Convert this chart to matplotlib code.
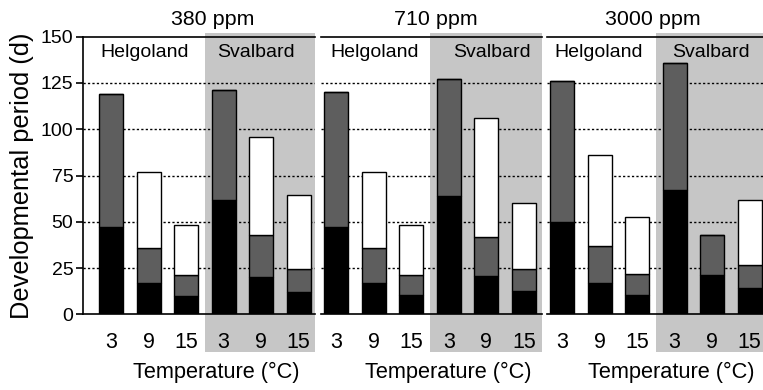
"""
Developmental period of Helgoland / Svalbard populations at three CO2 levels
"""
import matplotlib.pyplot as plt
from matplotlib.patches import Rectangle
import matplotlib.transforms as mtransforms
import numpy as np

plt.rcParams['font.family'] = ['Liberation Sans', 'DejaVu Sans']

co2_levels = ['380 ppm', '710 ppm', '3000 ppm']
temps = ['3', '9', '15', '3', '9', '15']
sites = ['Helgoland', 'Svalbard']

# stage boundaries (d): black = first stage, grey = second, white = third
black_380 = [47, 17, 10, 61.5, 20, 12]
mid_380 = [119, 36, 21.5, 121, 43, 24.5]
total_380 = [119, 77, 48, 121, 96, 64.5]

black_710 = [47, 17, 10.5, 64, 20.5, 12.5]
mid_710 = [120, 36, 21, 127, 42, 24.5]
total_710 = [120, 77, 48, 127, 106, 60]

black_3000 = [50, 17, 10.5, 67, 21, 14]
mid_3000 = [126, 37, 22, 136, 43, 26.5]
total_3000 = [126, 86, 52.5, 136, 43, 61.5]

blacks = [black_380, black_710, black_3000]
mids = [mid_380, mid_710, mid_3000]
totals = [total_380, total_710, total_3000]

W, H = 763, 390
fig = plt.figure(figsize=(W / 100, H / 100), dpi=100)

# panel geometry in pixels
px_left = [83, 321, 547]
xlims = [(-0.747, 5.44), (-0.41, 5.475), (-0.40, 5.36)]
unit = 37.5
y_bot, y_top = 314.3, 36.7
title_x = [0.558, 0.52, 0.49]
site_x = [(0.9, 3.87), (1.03, 4.15), (0.97, 3.97)]

bg = '#c6c6c6'
dark = '#5e5e5e'

for k in range(3):
    x0, x1 = xlims[k]
    width_px = (x1 - x0) * unit
    ax = fig.add_axes([px_left[k] / W, (H - y_bot) / H,
                       width_px / W, (y_bot - y_top) / H])
    ax.set_facecolor('none')
    ax.set_xlim(x0, x1)
    ax.set_ylim(0, 150)

    x = np.arange(6)
    b = np.array(blacks[k])
    m = np.array(mids[k])
    t = np.array(totals[k])
    ax.bar(x, b, width=0.64, color='black', edgecolor='black', linewidth=1, zorder=2)
    ax.bar(x, m - b, bottom=b, width=0.64, color=dark, edgecolor='black', linewidth=1, zorder=2)
    ax.bar(x, t - m, bottom=m, width=0.64, color='white', edgecolor='black', linewidth=1, zorder=2)

    # grey background behind Svalbard
    trans = mtransforms.blended_transform_factory(ax.transData, ax.transAxes)
    ax.add_patch(Rectangle((2.5, -0.136), x1 - 2.5, 1.148, transform=trans,
                           facecolor=bg, edgecolor='none', clip_on=False, zorder=0))

    ax.set_yticks([0, 25, 50, 75, 100, 125, 150])
    for v in [25, 50, 75, 100, 125]:
        ax.axhline(v, color='black', linewidth=1, linestyle=(0, (1.6, 1.6)), zorder=1)

    ax.set_xticks(x)
    ax.set_xticklabels(temps, fontsize=15.5)
    ax.tick_params(axis='x', length=0, pad=13)

    ax.spines['right'].set_visible(False)
    ax.spines['top'].set_linewidth(1.2)
    ax.spines['bottom'].set_linewidth(1.2)
    if k == 0:
        ax.spines['left'].set_linewidth(1.2)
        ax.tick_params(axis='y', length=5, width=1.2, pad=2, labelsize=14)
        ax.set_ylabel('Developmental period (d)', fontsize=18.3, labelpad=5)
    else:
        ax.spines['left'].set_visible(False)
        ax.tick_params(axis='y', left=False, labelleft=False)

    ax.text(title_x[k], 1.042, co2_levels[k], transform=ax.transAxes,
            ha='center', va='baseline', fontsize=15.4)
    ax.text(site_x[k][0], 141.5, sites[0], ha='center', va='center', fontsize=14)
    ax.text(site_x[k][1], 141.5, sites[1], ha='center', va='center', fontsize=14)

    ax.set_xlabel('Temperature (°C)', fontsize=15.7)
    ax.xaxis.set_label_coords(0.576, -0.172)
    ax.xaxis.label.set_va('top')

fig.savefig('out.png', dpi=100)
